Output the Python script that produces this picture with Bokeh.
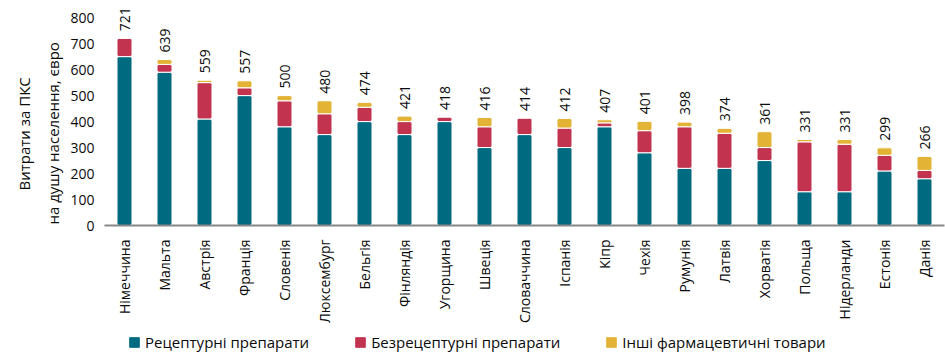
from bokeh.plotting import figure
from bokeh.models import ColumnDataSource, Range1d, FixedTicker, Legend, LegendItem, Title, FactorRange
from bokeh.layouts import column
from bokeh.core.properties import value
from bokeh.embed import file_html
from bokeh.resources import INLINE
import math

countries = ["Німеччина", "Мальта", "Австрія", "Франція", "Словенія", "Люксембург",
             "Бельгія", "Фінляндія", "Угорщина", "Швеція", "Словаччина", "Іспанія",
             "Кіпр", "Чехія", "Румунія", "Латвія", "Хорватія", "Польща",
             "Нідерланди", "Естонія", "Данія"]
rx = [650, 590, 410, 500, 380, 350, 400, 350, 400, 300, 350, 300, 380, 280, 220, 220, 250, 130, 130, 210, 180]
otc = [71, 30, 140, 30, 100, 80, 55, 50, 18, 80, 64, 75, 15, 85, 160, 135, 50, 192, 183, 60, 32]
other = [0, 19, 9, 27, 20, 50, 19, 21, 0, 36, 0, 37, 12, 36, 18, 19, 61, 9, 18, 29, 54]
totals = [721, 639, 559, 557, 500, 480, 474, 421, 418, 416, 414, 412, 407, 401, 398, 374, 361, 331, 331, 299, 266]
series_names = ["Рецептурні препарати", "Безрецептурні препарати", "Інші фармацевтичні товари"]
yticks = [0, 100, 200, 300, 400, 500, 600, 700, 800]

colors = ["#006a80", "#c1334f", "#e2b335"]
FONT = "Open Sans"
TXT = "#0a0a0a"

src = ColumnDataSource(dict(country=countries, rx=rx, otc=otc, other=other,
                            total=totals, label=[str(t) for t in totals]))

p = figure(x_range=FactorRange(*countries), y_range=Range1d(0, 866),
           width=945, height=326, output_backend="svg", toolbar_location=None,
           min_border_left=104, min_border_right=1, min_border_top=0, min_border_bottom=98)
p.outline_line_color = None
p.xgrid.grid_line_color = None
p.ygrid.grid_line_color = None
p.x_range.range_padding = 0

rs = p.vbar_stack(["rx", "otc", "other"], x="country", width=0.375, source=src,
                  color=colors, line_color="white", line_width=1, border_radius=2)

p.text(x="country", y="total", text="label", source=src, angle=math.pi / 2,
       text_align="left", text_baseline="middle", y_offset=-7,
       text_font=value(FONT), text_font_size="14px", text_color=TXT)

p.yaxis.ticker = FixedTicker(ticks=yticks)
p.yaxis.axis_line_color = None
p.yaxis.major_tick_line_color = None
p.yaxis.minor_tick_line_color = None
p.yaxis.major_label_standoff = 4
p.yaxis.major_label_text_font = FONT
p.yaxis.major_label_text_font_size = "14px"
p.yaxis.major_label_text_color = TXT

p.xaxis.axis_line_color = "#888888"
p.xaxis.axis_line_width = 2
p.xaxis.major_tick_line_color = None
p.xaxis.minor_tick_line_color = None
p.xaxis.major_label_orientation = math.pi / 2
p.xaxis.major_label_standoff = 8
p.xaxis.major_label_text_font = FONT
p.xaxis.major_label_text_font_size = "14px"
p.xaxis.major_label_text_color = TXT

p.add_layout(Title(text="на душу населення, євро", align="left", offset=1,
                   text_font=FONT, text_font_size="15px", text_font_style="normal",
                   text_color=TXT, standoff=10), "left")
p.add_layout(Title(text="Витрати за ПКС", align="left", offset=35,
                   text_font=FONT, text_font_size="15px", text_font_style="normal",
                   text_color=TXT, standoff=3), "left")

# legend strip
lf = figure(width=945, height=28, output_backend="svg", toolbar_location=None,
            x_axis_type=None, y_axis_type=None, min_border=0,
            x_range=Range1d(0, 1), y_range=Range1d(0, 1))
lf.outline_line_color = None
lf.xgrid.grid_line_color = None
lf.ygrid.grid_line_color = None
lr = []
for c in colors:
    dummy = ColumnDataSource(dict(x=[-5.0], top=[-5.0]))
    lr.append(lf.vbar(x="x", top="top", width=0.1, source=dummy,
                      fill_color=c, line_color=c, border_radius=2))
legend = Legend(items=[LegendItem(label=series_names[i], renderers=[lr[i]]) for i in range(3)],
                orientation="horizontal", location=(24, 2), border_line_color=None,
                background_fill_alpha=0, padding=0, margin=0, spacing=45,
                glyph_width=12, glyph_height=12, label_standoff=5,
                label_text_font=FONT, label_text_font_size="15px", label_text_color=TXT)
lf.add_layout(legend, "center")

layout = column(p, lf, spacing=0)
open("out.html", "w").write(file_html(layout, INLINE))
